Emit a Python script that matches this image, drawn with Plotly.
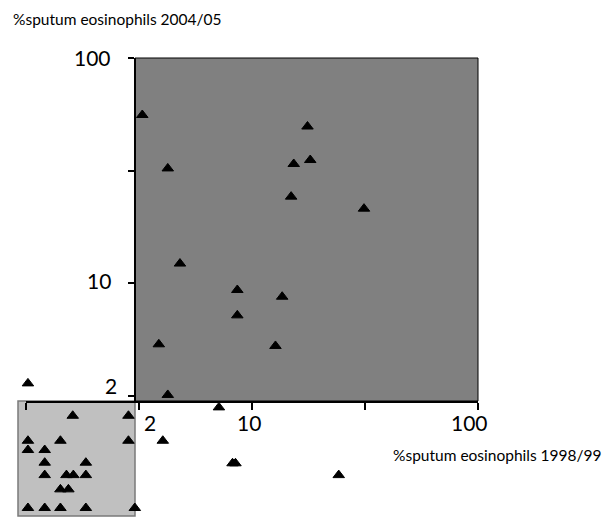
import math
import plotly.graph_objects as go

# %sputum eosinophils 1998/99 (x) vs 2004/05 (y)
x_1998 = [3.27, 17.6, 4.24, 18.1, 15.3, 14.9, 31.3, 4.80, 8.61, 13.6, 8.61, 3.87, 12.7, 4.24,
          1.02, 7.14, 4.03, 8.20, 8.45, 24.2,
          1.61, 2.84, 1.02, 1.42, 2.84, 1.02, 1.21, 1.21, 1.84, 1.21, 1.51, 1.62, 1.84,
          1.42, 1.54, 1.02, 1.21, 1.42, 1.84, 3.03]
y_2004 = [55.8, 49.6, 32.3, 35.2, 33.8, 24.2, 21.4, 12.2, 9.31, 8.69, 7.18, 5.34, 5.25, 3.18,
          3.58, 2.80, 1.99, 1.58, 1.58, 1.40,
          2.57, 2.57, 1.99, 1.99, 1.99, 1.81, 1.81, 1.59, 1.59, 1.40, 1.40, 1.40, 1.40,
          1.21, 1.21, 1.00, 1.00, 1.00, 1.00, 1.00]

x_ticks = [1, 10 ** 0.5, 10, 10 ** 1.5, 100]
y_ticks = [10 ** 0.5, 10, 10 ** 1.5, 100]
# (value, text, xshift)
x_tick_labels = [(10 ** 0.5, "2", 11), (10, "10", -3), (100, "100", -9)]
# (value, text, yshift, xshift)
y_tick_labels = [(100, "100", 1, -22), (10, "10", 3, -22), (10 ** 0.5, "2", 10, -16)]

x_title = "%sputum eosinophils 1998/99"
y_title = "%sputum eosinophils 2004/05"

FONT = "Lato, Carlito, Calibri, sans-serif"
BODY = 8  # default page margin of the written html

# layout in page pixels
PL, PR, PT, PB = 18, 478, 58, 517      # full data area (incl. light box)
AX_X, AX_Y = 135, 401                  # where the axes cross
DEC_X, DEC_Y = 226, 225                # pixels per decade
X10, Y10 = 252, 283                    # pixel of value 10
FIG_W, FIG_H = 614 - BODY, 517 - BODY

PW, PH = PR - PL, PB - PT


def fx(p):
    return (p - PL) / PW


def fy(p):
    return (PB - p) / PH


def lx(p):
    return 1 + (p - X10) / DEC_X


def ly(p):
    return 1 + (Y10 - p) / DEC_Y


fig = go.Figure()
fig.add_trace(go.Scatter(
    x=x_1998, y=y_2004, mode="markers", cliponaxis=False, xaxis="x", yaxis="y",
    marker=dict(symbol="triangle-up", size=10, color="black",
                line=dict(color="black", width=1)),
    showlegend=False, hoverinfo="x+y"))
# empty trace to create the visible axes subplot
fig.add_trace(go.Scatter(x=[], y=[], xaxis="x2", yaxis="y2", showlegend=False,
                         hoverinfo="skip"))

shapes = [
    dict(type="rect", xref="x domain", yref="y domain", x0=fx(AX_X), x1=1, y0=fy(AX_Y), y1=1,
         fillcolor="#808080", line=dict(color="black", width=1), layer="below"),
    dict(type="rect", xref="x domain", yref="y domain", x0=0, x1=fx(AX_X), y0=fy(516),
         y1=fy(AX_Y), fillcolor="#c0c0c0", line=dict(color="#7a7a7a", width=1.5), layer="below"),
]

tick_font = dict(family=FONT, size=21, color="black")
annotations = []
for v, t, sh in x_tick_labels:
    annotations.append(dict(x=math.log10(v), y=0, xref="x2", yref="y2 domain", text=t,
                            showarrow=False, xshift=sh, yshift=-22, xanchor="center",
                            yanchor="middle", font=tick_font))
for v, t, ys, xs in y_tick_labels:
    annotations.append(dict(x=fx(AX_X), y=math.log10(v), xref="paper", yref="y2", text=t,
                            showarrow=False, xshift=xs, yshift=ys, xanchor="right",
                            yanchor="middle", font=tick_font))
annotations.append(dict(x=fx(12), y=fy(BODY + 1), xref="paper", yref="paper", text=y_title,
                        showarrow=False, xanchor="left", yanchor="top", borderpad=0,
                        font=dict(family=FONT, size=15.5, color="black")))
annotations.append(dict(x=fx(391), y=fy(455), xref="paper", yref="paper", text=x_title,
                        showarrow=False, xanchor="left", yanchor="middle",
                        font=dict(family=FONT, size=15.5, color="black")))

hidden = dict(type="log", showline=False, showgrid=False, zeroline=False, ticks="",
              showticklabels=False)

fig.update_layout(
    width=FIG_W, height=FIG_H,
    margin=dict(l=PL - BODY, r=FIG_W - (PR - BODY), t=PT - BODY, b=FIG_H - (PB - BODY), pad=0),
    paper_bgcolor="white", plot_bgcolor="rgba(0,0,0,0)",
    shapes=shapes, annotations=annotations,
    xaxis=dict(hidden, range=[lx(PL), lx(PR)], domain=[0, 1]),
    yaxis=dict(hidden, range=[ly(PB), ly(PT)], domain=[0, 1]),
    xaxis2=dict(type="log", range=[0, 2], domain=[fx(X10 - DEC_X), 1], anchor="y2",
                tickvals=x_ticks, showticklabels=False, ticks="outside", ticklen=7,
                tickwidth=2, tickcolor="black", showline=True, linecolor="black",
                linewidth=2, showgrid=False, zeroline=False),
    yaxis2=dict(type="log", range=[ly(AX_Y), ly(PT)], domain=[fy(AX_Y), 1], anchor="free",
                position=fx(AX_X), tickvals=y_ticks, showticklabels=False, ticks="outside",
                ticklen=6, tickwidth=2, tickcolor="black", showline=True, linecolor="black",
                linewidth=2, showgrid=False, zeroline=False),
)

fig.write_html("out.html")
